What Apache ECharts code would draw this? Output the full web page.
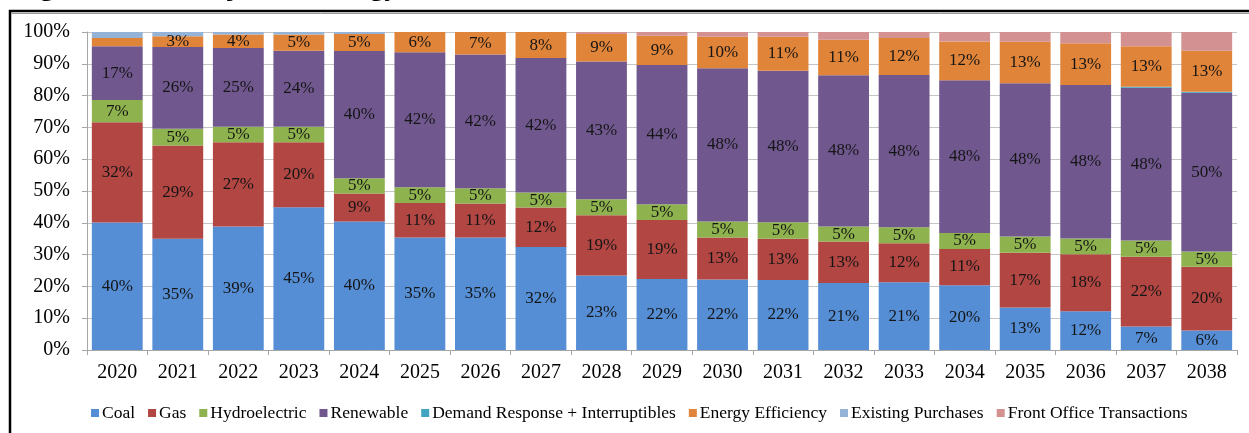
<!DOCTYPE html>
<html>
<head>
<meta charset="utf-8">
<script src="https://cdn.jsdelivr.net/npm/echarts@6/dist/echarts.min.js"></script>
<style>
html,body{margin:0;padding:0;background:#fff;}
#chart{width:1249px;height:433px;}
</style>
</head>
<body>
<div id="chart"></div>
<script>
var years = ['2020','2021','2022','2023','2024','2025','2026','2027','2028','2029','2030','2031','2032','2033','2034','2035','2036','2037','2038'];
var coal   = [40.1,35,38.8,44.9,40.4,35.4,35.4,32.4,23.4,22.3,22.2,22,21.1,21.3,20.4,13.4,12.2,7.4,6.1];
var gas    = [31.5,29.3,26.5,20.4,8.8,10.8,10.7,12.4,19,18.6,13.2,13,13,12.3,11.4,17.2,17.9,21.9,20.1];
var hydro  = [7,5.3,4.9,4.9,4.8,5,4.8,4.7,5,4.9,5,5.2,4.7,5,5,5.1,5,5.1,4.8];
var renew  = [16.9,25.7,24.8,23.9,40,42.4,42,42.3,43.3,43.8,48.2,47.6,47.6,47.9,48,48.2,48.2,48.1,49.9];
var demand = [0,0,0,0,0,0,0,0,0,0,0,0,0,0,0,0,0,0.3,0.3];
var effic  = [2.6,3.4,4.2,5.1,5.4,6.4,7.1,8.2,8.7,9.2,9.9,10.7,11.2,11.6,12.2,13,13.2,12.7,12.9];
var exist  = [1.9,1.3,0.8,0.8,0.6,0,0,0,0,0,0,0,0,0,0,0,0,0,0];
var front  = [0,0,0,0,0,0,0,0,0.6,1.2,1.5,1.5,2.4,1.9,3,3.1,3.5,4.5,5.9];
var yTicks = ['0%','10%','20%','30%','40%','50%','60%','70%','80%','90%','100%'];

var seriesDefs = [
  {name:'Coal', data:coal, color:'#558ED5', label:true},
  {name:'Gas', data:gas, color:'#B24643', label:true},
  {name:'Hydroelectric', data:hydro, color:'#8EB24E', label:true},
  {name:'Renewable', data:renew, color:'#70588F', label:true},
  {name:'Demand Response + Interruptibles', data:demand, color:'#41A4C0', label:false},
  {name:'Energy Efficiency', data:effic, color:'#E0843A', label:true},
  {name:'Existing Purchases', data:exist, color:'#95B3D7', label:false},
  {name:'Front Office Transactions', data:front, color:'#D39192', label:false}
];

var FONT = '"Liberation Serif", "Times New Roman", serif';

var series = seriesDefs.map(function(s){
  return {
    name: s.name,
    type: 'bar',
    stack: 'total',
    barCategoryGap: '16%',
    data: s.data,
    itemStyle: {color: s.color},
    label: {
      show: s.label,
      position: 'inside',
      fontFamily: FONT,
      fontSize: 17,
      color: '#151515',
      formatter: function(p){ return p.value >= 3 ? Math.round(p.value) + '%' : ''; }
    }
  };
});

var chart = echarts.init(document.getElementById('chart'));
chart.setOption({
  animation: false,
  color: seriesDefs.map(function(s){return s.color;}),
  grid: {left: 87, right: 12, top: 32, bottom: 83, containLabel: false},
  xAxis: {
    type: 'category',
    data: years,
    axisLine: {lineStyle: {color: '#a6a6a6'}},
    axisTick: {show: true, length: 5, lineStyle: {color: '#a6a6a6'}},
    axisLabel: {fontFamily: FONT, fontSize: 20, color: '#000', margin: 13}
  },
  yAxis: {
    type: 'value',
    min: 0, max: 100, interval: 10,
    axisLine: {show: true, lineStyle: {color: '#a6a6a6'}},
    axisTick: {show: true, length: 5, lineStyle: {color: '#a6a6a6'}},
    splitLine: {lineStyle: {color: '#c4c4c4'}},
    axisLabel: {fontFamily: FONT, fontSize: 20, color: '#000', margin: 17,
      formatter: function(v){ return yTicks[Math.round(v/10)]; }}
  },
  legend: {
    data: seriesDefs.map(function(s){return s.name;}),
    left: 86, top: 399,
    icon: 'rect', itemWidth: 8, itemHeight: 8, itemGap: 13,
    textStyle: {fontFamily: FONT, fontSize: 17.5, color: '#000', padding: [0,0,0,-2]}
  },
  graphic: [
    {type: 'rect', shape: {x: 10, y: 11, width: 1300, height: 500},
     style: {fill: 'none', stroke: '#000', lineWidth: 2.5}, silent: true},
    {type: 'line', shape: {x1: 11, y1: 13.5, x2: 1249, y2: 13.5},
     style: {stroke: '#9a9a9a', lineWidth: 1}, silent: true},
    {type: 'text', x: 14, y: 2.5,
     style: {text: 'Figure 8.15 \u2013 Projected Energy Mix with Preferred Portfolio Resources',
       font: 'bold 29px "Liberation Serif", serif', fill: '#000', verticalAlign: 'bottom'}, silent: true}
  ],
  series: series
});
</script>
</body>
</html>
